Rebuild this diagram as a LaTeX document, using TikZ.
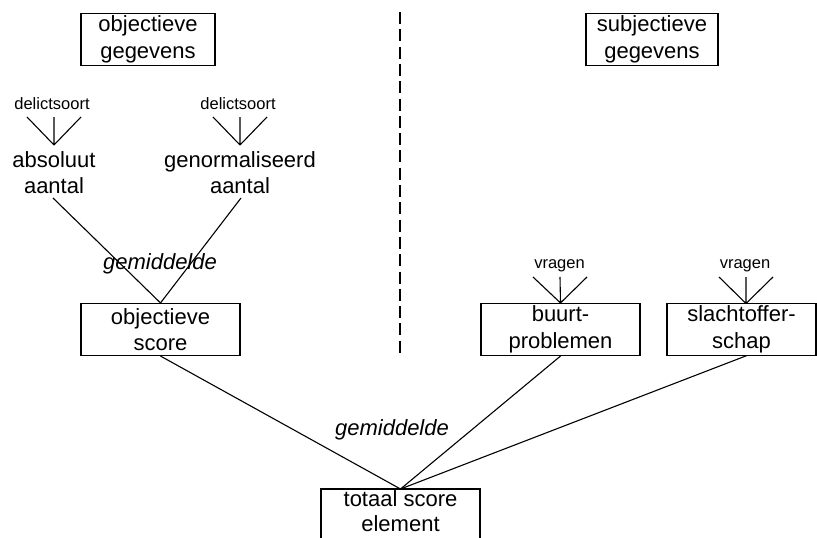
\documentclass[tikz,border=0pt]{standalone}
\usepackage{fontspec}
\setmainfont{Liberation Sans}
\begin{document}
\begin{tikzpicture}[x=1pt,y=-1pt,
  every path/.style={line width=1.1pt},
  big/.style={align=center,inner sep=0pt,font=\fontsize{22}{26.5}\selectfont},
  box/.style={big,draw,minimum height=52pt},
  small/.style={inner sep=0pt,font=\fontsize{16.5}{20}\selectfont},
  lab/.style={inner sep=0pt,font=\fontsize{22}{26.5}\selectfont\itshape},
  sep/.style={dash pattern=on 12pt off 5.3pt}]
\useasboundingbox (0,0) rectangle (817,538);
% boxes
\node[box,minimum width=134pt] (objgeg) at (148,39.5) {objectieve\\gegevens};
\node[box,minimum width=132pt] (subgeg) at (652,39.5) {subjectieve\\gegevens};
\node[box,minimum width=159pt] (objscore) at (160.5,329.5) {objectieve\\score};
\node[box,minimum width=159pt] (buurt) at (560.5,329.5) {buurt-\\problemen};
\node[box,minimum width=149pt] (slacht) at (741.5,329.5) {slachtoffer-\\schap};
\node[big,font=\fontsize{22}{25}\selectfont] (totaal) at (400.5,511) {totaal score\\element};
\coordinate (tbl) at (321,540);
\coordinate (ttl) at (321,489);
\coordinate (ttr) at (480,489);
\coordinate (tbr) at (480,540);
\coordinate (ttop) at (400.5,489);
\draw (tbl) -- (ttl) -- (ttr) -- (tbr);
% labels
\node[big] (abs) at (54,172.5) {absoluut\\aantal};
\node[big] (gen) at (240,172.5) {genormaliseerd\\aantal};
\node[small] (d1) at (52,104) {delictsoort};
\node[small] (d2) at (238,104) {delictsoort};
\node[small] (v1) at (559.5,266) {vragen};
\node[small] (v2) at (745,266) {vragen};
\node[lab] (g1) at (160,264) {gemiddelde};
\node[lab] (g2) at (392,430) {gemiddelde};
% coordinates
\coordinate (top) at (400,12);
\coordinate (bot) at (400,357);
\coordinate (d1l) at (27,117); \coordinate (d1m) at (54,117); \coordinate (d1r) at (81,117);
\coordinate (d1c) at (54,145);
\coordinate (d2l) at (213,117); \coordinate (d2m) at (240,117); \coordinate (d2r) at (267,117);
\coordinate (d2c) at (240,145);
\coordinate (v1l) at (533,277); \coordinate (v1m) at (560,277); \coordinate (v1r) at (587,277);
\coordinate (v2l) at (719,277); \coordinate (v2m) at (746,277); \coordinate (v2r) at (773,277);
\coordinate (v2c) at (746,303.5);
\coordinate (abss) at (53,198);
\coordinate (gens) at (241,198);
\coordinate (slachts) at (747,355.5);
% separator
\draw[sep] (top) -- (bot);
% fans
\draw (d1l) -- (d1c) (d1m) -- (d1c) (d1r) -- (d1c);
\draw (d2l) -- (d2c) (d2m) -- (d2c) (d2r) -- (d2c);
\draw (v1l) -- (buurt.north) (v1m) -- (buurt.north) (v1r) -- (buurt.north);
\draw (v2l) -- (v2c) (v2m) -- (v2c) (v2r) -- (v2c);
% connectors
\draw (abss) -- (objscore.north);
\draw (gens) -- (objscore.north);
\draw (objscore.south) -- (ttop);
\draw (buurt.south) -- (ttop);
\draw (slachts) -- (ttop);
\end{tikzpicture}
\end{document}
